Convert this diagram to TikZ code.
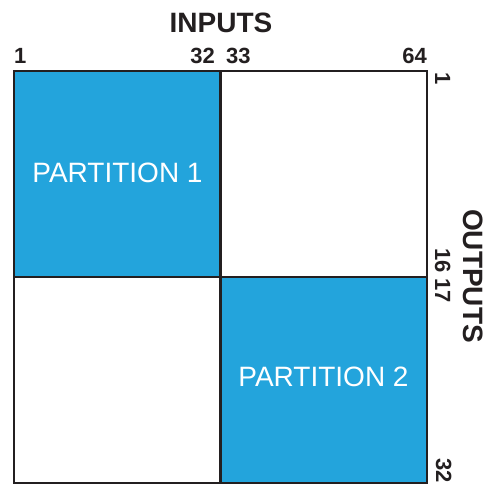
\documentclass[tikz,border=0pt]{standalone}
\usepackage{fontspec}
\setmainfont{Liberation Sans}
\definecolor{partblue}{RGB}{35,164,220}
\definecolor{gridline}{RGB}{35,31,32}
\tikzset{
  grid/.style={draw=gridline,line width=2.6pt},
  head/.style={font=\fontsize{28}{28}\selectfont\bfseries,text=gridline,inner sep=0pt},
  num/.style={font=\fontsize{22}{22}\selectfont\bfseries,text=gridline,inner sep=0pt},
  part/.style={font=\fontsize{28}{28}\selectfont,text=white,inner sep=0pt}
}
\begin{document}
\begin{tikzpicture}[x=1pt,y=-1pt]
\useasboundingbox (0,0) rectangle (492,485);
% quadrants
\fill[partblue] (14,71) rectangle (220.5,277);
\fill[partblue] (220.5,277) rectangle (427,483);
\draw[grid] (14,71) rectangle (427,483);
\draw[grid] (220.5,71) -- (220.5,483);
\draw[grid] (14,277) -- (427,277);
\node[part] (p1) at (117.5,172.5) {PARTITION 1};
\node[part] (p2) at (323.5,377) {PARTITION 2};
% inputs
\node[head,anchor=base] (in) at (221,32) {INPUTS};
\node[num,anchor=base west] (i1) at (14,63) {1};
\node[num,anchor=base east] (i32) at (215,63) {32};
\node[num,anchor=base west] (i33) at (226,63) {33};
\node[num,anchor=base east] (i64) at (427,63) {64};
% outputs
\node[head,rotate=-90,anchor=base] (out) at (463,276) {OUTPUTS};
\node[num,rotate=-90,anchor=base west] (o1) at (435,72) {1};
\node[num,rotate=-90,anchor=base east] (o16) at (435,273) {16};
\node[num,rotate=-90,anchor=base west] (o17) at (435,278) {17};
\node[num,rotate=-90,anchor=base east] (o32) at (436,483) {32};
\end{tikzpicture}
\end{document}
